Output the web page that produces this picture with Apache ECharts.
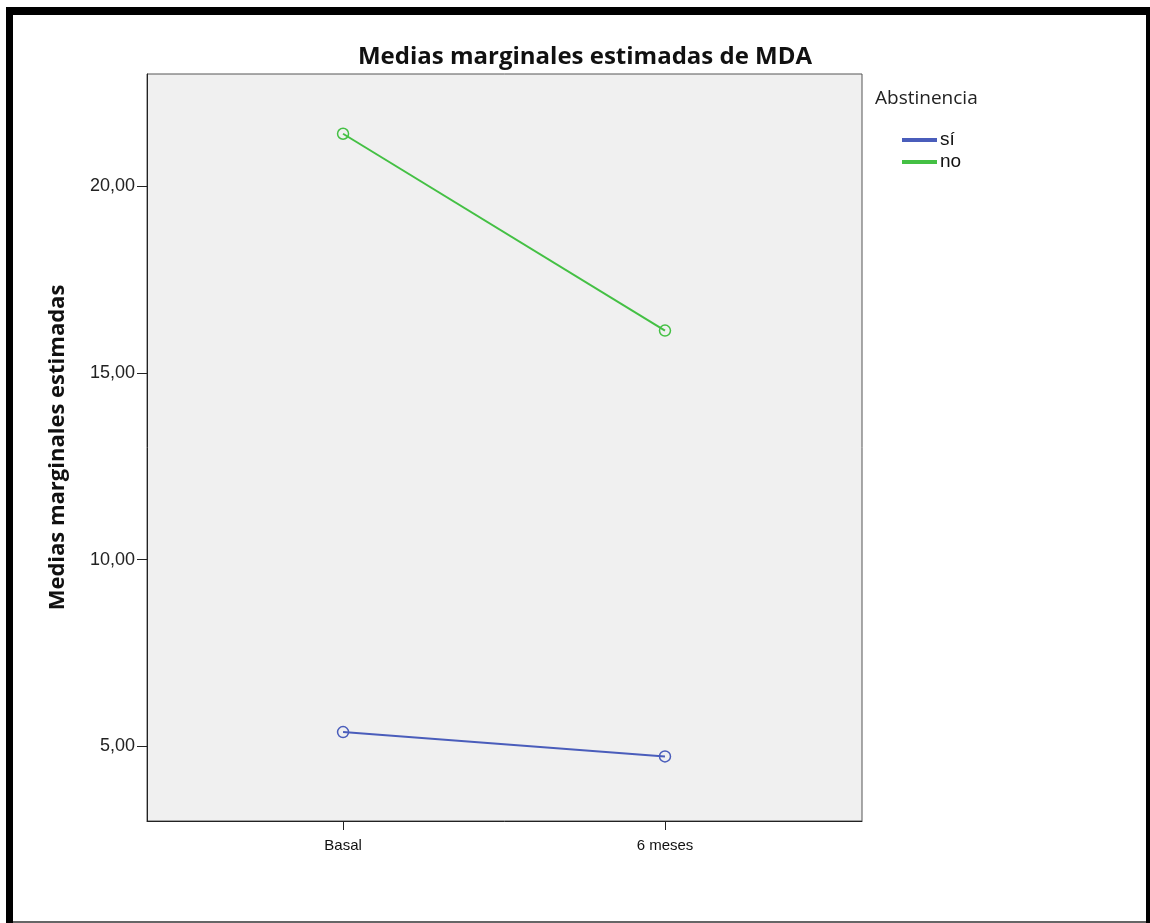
<!DOCTYPE html>
<html>
<head>
<meta charset="utf-8">
<script src="https://cdn.jsdelivr.net/npm/echarts@6/dist/echarts.min.js"></script>
<style>
  html, body { margin: 0; padding: 0; background: #fff; }
  #chart { width: 1150px; height: 923px; }
</style>
</head>
<body>
<div id="chart"></div>
<script>
// Time points (x positions 0 and 1 on a value axis)
const timePoints = ['Basal', '6 meses'];
// Estimated marginal means of MDA by abstinence group
const groupNames = ['sí', 'no'];
const siValues = [5.38, 4.73];
const noValues = [21.40, 16.13];
// Y-axis tick values
const yTicks = [5, 10, 15, 20];

const colors = ['#4a5dbb', '#44c044'];

const chart = echarts.init(document.getElementById('chart'), null, { renderer: 'canvas' });

function toPoints(vals) {
  return vals.map((v, i) => [i, v]);
}

function groupSeries(name, vals, color) {
  return {
    name: name, type: 'line', data: toPoints(vals),
    symbol: 'circle', symbolSize: 11,
    lineStyle: { color: color, width: 2 },
    itemStyle: { color: 'rgba(0,0,0,0)', borderColor: color, borderWidth: 1.5 }
  };
}

const option = {
  backgroundColor: '#ffffff',
  animation: false,
  title: {
    text: 'Medias marginales estimadas de MDA',
    left: 580,
    textAlign: 'center',
    top: 40,
    textStyle: { fontFamily: 'Open Sans', fontWeight: 'bold', fontSize: 24, color: '#111' }
  },
  grid: {
    left: 147, top: 74, width: 715, height: 747,
    show: true, backgroundColor: '#f0f0f0', borderColor: '#555', borderWidth: 1
  },
  legend: {
    orient: 'vertical',
    left: 897,
    top: 124,
    itemWidth: 33,
    itemHeight: 2,
    itemGap: 0,
    icon: 'rect',
    data: groupNames.map((n, i) => ({ name: n, itemStyle: { color: colors[i] } })),
    textStyle: { fontFamily: 'Liberation Sans', fontSize: 19, color: '#111', padding: [0, 0, 0, -1], lineHeight: 22 }
  },
  xAxis: {
    type: 'value',
    min: -0.609,
    max: 1.612,
    axisLine: { show: true, onZero: false, lineStyle: { color: '#222', width: 1 } },
    axisTick: { show: true, length: 9, customValues: [0, 1], lineStyle: { color: '#222' } },
    axisLabel: {
      customValues: [0, 1],
      margin: 17,
      fontFamily: 'Liberation Sans', fontSize: 15, color: '#111',
      formatter: v => timePoints[Math.round(v)] || ''
    },
    splitLine: { show: false }
  },
  yAxis: {
    type: 'value',
    min: 3,
    max: 23,
    name: 'Medias marginales estimadas',
    nameLocation: 'middle',
    nameGap: 78,
    nameTextStyle: { fontFamily: 'Open Sans', fontWeight: 'bold', fontSize: 22, color: '#111' },
    axisLine: { show: true, onZero: false, lineStyle: { color: '#222', width: 1 } },
    axisTick: { show: true, length: 10, customValues: yTicks, lineStyle: { color: '#222' } },
    axisLabel: {
      customValues: yTicks,
      margin: 12,
      fontFamily: 'Liberation Sans', fontSize: 18, color: '#222',
      formatter: v => v.toFixed(2).replace('.', ',')
    },
    splitLine: { show: false }
  },
  series: [
    groupSeries(groupNames[0], siValues, colors[0]),
    groupSeries(groupNames[1], noValues, colors[1])
  ],
  graphic: [
    // legend heading
    { type: 'text', left: 875, top: 89,
      style: { text: 'Abstinencia', fontFamily: 'Open Sans', fontSize: 19, fill: '#222' } },
    // outer frame
    { type: 'rect', shape: { x: 6, y: 7, width: 7, height: 916 }, style: { fill: '#000' } },
    { type: 'rect', shape: { x: 6, y: 7, width: 1144, height: 8 }, style: { fill: '#000' } },
    { type: 'rect', shape: { x: 1146, y: 7, width: 4, height: 916 }, style: { fill: '#000' } },
    { type: 'rect', shape: { x: 13, y: 921, width: 1133, height: 2 }, style: { fill: '#666' } }
  ]
};

chart.setOption(option);
</script>
</body>
</html>
